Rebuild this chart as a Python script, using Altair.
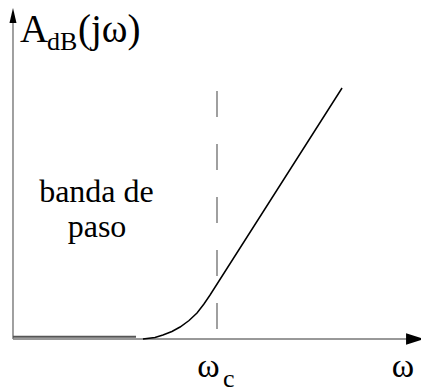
import altair as alt
import pandas as pd

# Asymptotic magnitude response of a high-pass filter (omega normalised to omega_c)
curve_omega = [0.637, 0.696, 0.735, 0.779, 0.819, 0.863, 0.902, 0.936, 0.966, 1.613]
curve_gain = [0.0, 0.25, 0.667, 1.25, 2.0, 3.08, 4.33, 5.83, 7.33, 41.83]

# low-frequency floor drawn just above the axis
floor_omega = [0.0, 0.603]
floor_gain = [0.38, 0.38]

# cut-off marker
cutoff_omega = 1.0
cutoff_gain_top = 41.33
cutoff_gain_bottom = 1.5

# axes extents
x_axis_end = 1.95
y_axis_end = 53.0

# arrow heads
up_head_omega = [-0.0172, 0.0, 0.0172]
up_head_gain = [52.67, 55.17, 52.67]
up_head_base = 52.67
right_head_omega = [1.966]
right_head_gain = [0.0]

# labels
label_text = ["A", "dB", "(jω)", "banda de", "paso", "ω", "ω", "c"]
label_omega = [0.0343, 0.1667, 0.3186, 0.409, 0.412, 1.912, 0.958, 1.029]
label_gain = [49.5, 48.17, 49.5, 22.83, 17.0, -6.33, -6.33, -8.0]
label_size = [39, 26, 39, 32, 32, 34, 34, 26]
label_align = ["left", "left", "left", "center", "center", "center", "center", "left"]

X = alt.Scale(domain=[-0.0637, 2.0])
Y = alt.Scale(domain=[-8.833, 56.5])
FONT = "Liberation Serif"


def xenc(f="w"):
    return alt.X(f"{f}:Q", scale=X, axis=None)


def yenc(f="g"):
    return alt.Y(f"{f}:Q", scale=Y, axis=None)


# axis lines
h_axis = alt.Chart(pd.DataFrame({"w": [0.0], "w2": [x_axis_end], "g": [0.0]})).mark_rule(
    color="#333333", strokeWidth=1
).encode(x=xenc(), x2="w2:Q", y=yenc())

v_axis = alt.Chart(pd.DataFrame({"w": [0.0], "g": [0.0], "g2": [y_axis_end]})).mark_rule(
    color="#808080", strokeWidth=1.5
).encode(x=xenc(), y=yenc(), y2="g2:Q")

up_arrow = alt.Chart(
    pd.DataFrame({"w": up_head_omega, "g": up_head_gain, "b": [up_head_base] * 3})
).mark_area(color="black", opacity=1).encode(x=xenc(), y=yenc(), y2=alt.Y2("b:Q"))

right_arrow = alt.Chart(pd.DataFrame({"w": right_head_omega, "g": right_head_gain})).mark_point(
    shape="M1,0L-1,-0.64L-1,0.64Z", size=196, filled=True, fill="black", stroke="black", opacity=1
).encode(x=xenc(), y=yenc())

# dashed cut-off line
cutoff = alt.Chart(
    pd.DataFrame({"w": [cutoff_omega], "g": [cutoff_gain_top], "g2": [cutoff_gain_bottom]})
).mark_rule(color="#808080", strokeWidth=1.5, strokeDash=[26, 27]).encode(
    x=xenc(), y=yenc(), y2="g2:Q"
)

floor = alt.Chart(pd.DataFrame({"w": floor_omega, "g": floor_gain})).mark_line(
    color="#555555", strokeWidth=2
).encode(x=xenc(), y=yenc())

response = alt.Chart(pd.DataFrame({"w": curve_omega, "g": curve_gain})).mark_line(
    color="black", strokeWidth=1.5
).encode(x=xenc(), y=yenc())

texts = []
for t, w, g, s, a in zip(label_text, label_omega, label_gain, label_size, label_align):
    texts.append(
        alt.Chart(pd.DataFrame({"w": [w], "g": [g], "t": [t]})).mark_text(
            font=FONT, fontSize=s, align=a, baseline="alphabetic", color="black"
        ).encode(x=xenc(), y=yenc(), text="t:N")
    )

chart = alt.layer(h_axis, v_axis, cutoff, floor, response, up_arrow, right_arrow, *texts).properties(
    width=421, height=392, padding=0, autosize=alt.AutoSizeParams(type="none")
).configure_view(stroke=None)

chart.save("out.html", embed_options={"renderer": "svg", "actions": False})
